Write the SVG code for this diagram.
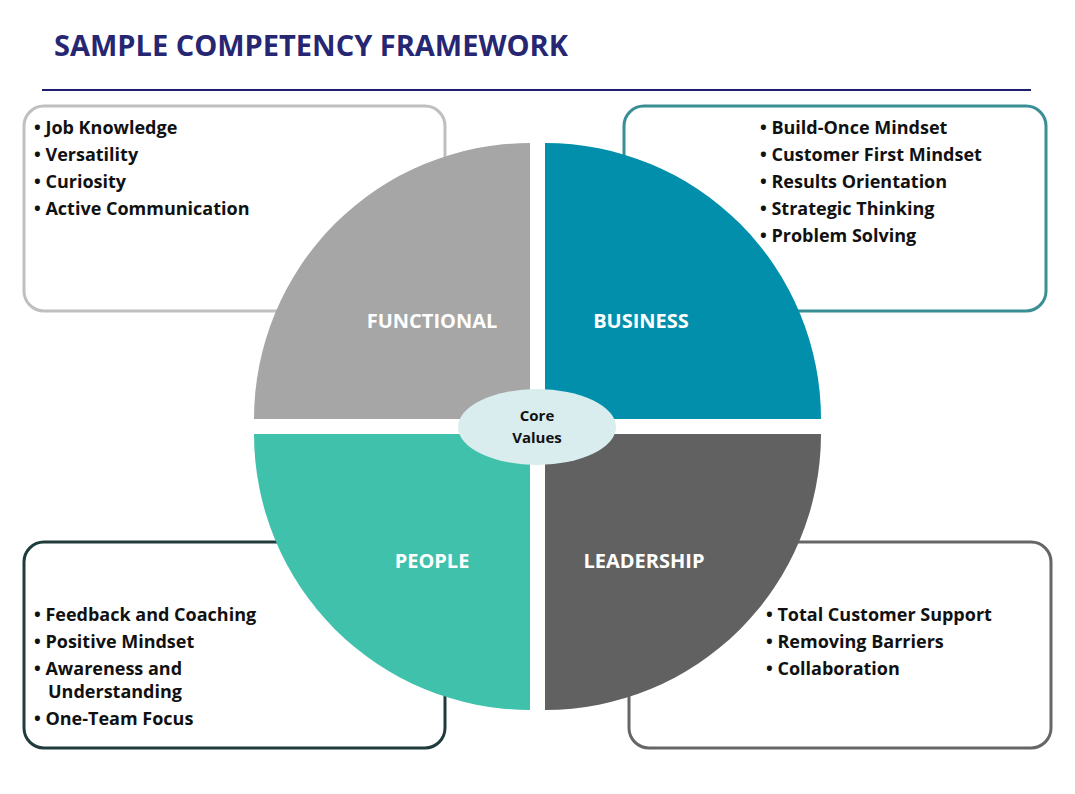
<svg xmlns="http://www.w3.org/2000/svg" width="1075" height="794" viewBox="0 0 1075 794">
<style>
.box{fill:#fff;stroke-width:3}
.li{font-family:"Open Sans","Liberation Sans",sans-serif;font-weight:bold;font-size:18px;fill:#111}
.q{font-family:"Open Sans","Liberation Sans",sans-serif;font-weight:bold;font-size:20px;fill:#fff}
</style>
<rect width="1075" height="794" fill="#fff"/>
<text x="54" y="56" font-family="'Open Sans','Liberation Sans',sans-serif" font-weight="bold" font-size="29" fill="#262673">SAMPLE COMPETENCY FRAMEWORK</text>
<line x1="42" y1="90" x2="1031" y2="90" stroke="#1f1f6e" stroke-width="2"/>
<g id="box-functional"><rect class="box" x="24" y="106" width="421" height="205" rx="20" stroke="#bfbfbf"/>
<text class="li" x="34"><tspan x="34" y="134">• Job Knowledge</tspan><tspan x="34" y="161">• Versatility</tspan><tspan x="34" y="188">• Curiosity</tspan><tspan x="34" y="215">• Active Communication</tspan></text></g>
<g id="box-business"><rect class="box" x="624" y="106" width="422" height="205" rx="20" stroke="#3a8f94"/>
<text class="li"><tspan x="760" y="134">• Build-Once Mindset</tspan><tspan x="760" y="161">• Customer First Mindset</tspan><tspan x="760" y="188">• Results Orientation</tspan><tspan x="760" y="215">• Strategic Thinking</tspan><tspan x="760" y="242">• Problem Solving</tspan></text></g>
<g id="box-people"><rect class="box" x="24" y="542" width="421" height="206" rx="20" stroke="#1f3b3b"/>
<text class="li"><tspan x="34" y="621">• Feedback and Coaching</tspan><tspan x="34" y="648">• Positive Mindset</tspan><tspan x="34" y="675">• Awareness and</tspan><tspan x="48" y="698">Understanding</tspan><tspan x="34" y="725">• One-Team Focus</tspan></text></g>
<g id="box-leadership"><rect class="box" x="629" y="542" width="422" height="206" rx="20" stroke="#666"/>
<text class="li"><tspan x="766" y="621">• Total Customer Support</tspan><tspan x="766" y="648">• Removing Barriers</tspan><tspan x="766" y="675">• Collaboration</tspan></text></g>
<g id="q-functional"><path d="M530 419 L254 419 A276 276 0 0 1 530 143 Z" fill="#a6a6a6"/><text class="q" x="432" y="328" text-anchor="middle">FUNCTIONAL</text></g>
<g id="q-business"><path d="M545 419 L545 143 A276 276 0 0 1 821 419 Z" fill="#028fac"/><text class="q" x="641" y="328" text-anchor="middle">BUSINESS</text></g>
<g id="q-people"><path d="M530 434 L530 710 A276 276 0 0 1 254 434 Z" fill="#40c1ac"/><text class="q" x="432" y="568" text-anchor="middle">PEOPLE</text></g>
<g id="q-leadership"><path d="M545 434 L821 434 A276 276 0 0 1 545 710 Z" fill="#616161"/><text class="q" x="644" y="568" text-anchor="middle">LEADERSHIP</text></g>
<g id="core"><ellipse cx="537" cy="427" rx="79" ry="38" fill="#d9ecee"/>
<text font-family="'Open Sans','Liberation Sans',sans-serif" font-weight="bold" font-size="15" fill="#111" text-anchor="middle"><tspan x="537" y="421">Core</tspan><tspan x="537" y="443">Values</tspan></text></g>
<g id="connectors"/>
</svg>
